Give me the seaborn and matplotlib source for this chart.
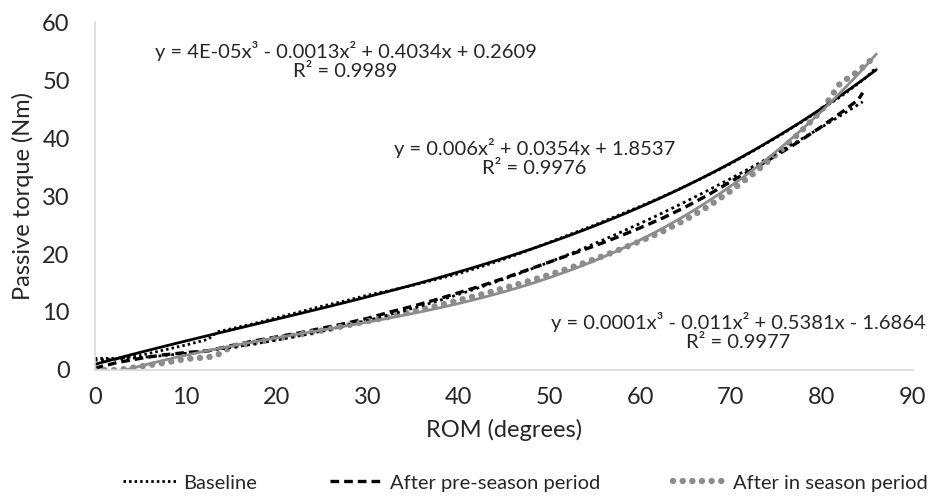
import numpy as np
import pandas as pd
import matplotlib
matplotlib.use("Agg")
import matplotlib.pyplot as plt
import seaborn as sns

# Values (ROM in degrees, torque in Nm)
base_x = [0, 2.5, 5, 7.5, 10, 12.5, 13.5, 15, 17.5, 20, 22.5, 25, 27.5, 30, 32.5, 35, 37.5,
          40, 42.5, 45, 47.5, 50, 52.5, 55, 57.5, 60, 62.5, 65, 67.5, 70, 72.5, 75, 77.5,
          80, 82.5, 85, 86]
base_y = [2.0, 2.0, 2.5, 3.4, 4.3, 5.3, 6.6, 7.1, 8.0, 9.0, 10.0, 11.0, 11.9, 12.9, 13.7, 14.6, 15.6,
          16.6, 17.8, 19.1, 20.5, 22.0, 23.5, 25.0, 26.6, 28.2, 29.9, 31.7, 33.6, 35.6, 37.8, 40.1, 42.5,
          45.0, 47.6, 50.6, 52.2]

pre_x = [0, 2.5, 5, 7.5, 10, 12.5, 15, 17.5, 20, 22.5, 25, 27.5, 30, 32.5, 35, 37.5,
         40, 42.5, 45, 47.5, 50, 52.5, 55, 57.5, 60, 62.5, 65, 67.5, 70, 72.5, 75, 77.5,
         80, 82.5, 84, 84.5]
pre_y = [0.3, 1.3, 2.0, 2.6, 3.0, 3.3, 4.2, 5.0, 5.7, 6.4, 7.2, 8.0, 8.9, 10.0, 11.0, 12.1,
         13.3, 14.5, 15.8, 17.2, 18.6, 20.0, 21.4, 22.9, 24.5, 26.2, 28.1, 30.2, 32.5, 34.7, 37.0, 39.4,
         42.0, 44.8, 46.6, 47.8]

ins_x = [0, 2.5, 5, 7.5, 10, 12.5, 13.5, 15, 17.5, 20, 22.5, 25, 27.5, 30, 32.5, 35, 37.5,
         40, 42.5, 45, 47.5, 50, 52.5, 55, 57.5, 60, 62.5, 65, 67.5, 70, 72.5, 75, 77.5,
         80, 82, 84, 86]
ins_y = [0.0, 0.0, 0.6, 1.2, 1.9, 2.2, 2.6, 4.0, 4.7, 5.4, 6.1, 6.8, 7.6, 8.4, 9.2, 10.1, 11.0,
         12.0, 13.0, 14.1, 15.2, 16.4, 17.7, 19.1, 20.6, 22.2, 23.9, 25.9, 28.2, 30.9, 33.9, 37.2, 40.8,
         44.8, 49.4, 51.5, 54.3]

# Trendline labels as printed on the chart
eq_base = "y = 4E-05x³ - 0.0013x² + 0.4034x + 0.2609\nR² = 0.9989"
eq_pre = "y = 0.006x² + 0.0354x + 1.8537\nR² = 0.9976"
eq_ins = "y = 0.0001x³ - 0.011x² + 0.5381x - 1.6864\nR² = 0.9977"

sns.set_theme(style="white")
plt.rcParams['font.family'] = ['Lato', 'DejaVu Sans']

black = "#000000"
grey = "#8c8c8c"

fig = plt.figure(figsize=(9.38, 5.01), dpi=100)
ax = fig.add_axes([0.101, 0.2615, 0.872, 0.6945])

# data series
sns.lineplot(x=base_x, y=base_y, ax=ax, color=black, linewidth=2.0,
             linestyle=(0, (0.9, 1.1)), label="Baseline")
sns.lineplot(x=pre_x, y=pre_y, ax=ax, color=black, linewidth=2.4,
             linestyle=(0, (2.6, 1.5)), label="After pre-season period")
sns.lineplot(x=ins_x, y=ins_y, ax=ax, color=grey, linewidth=4.6,
             linestyle=(0, (0.01, 1.5)), dash_capstyle="round",
             label="After in season period")

# polynomial trendlines
sns.regplot(x=np.array(base_x), y=np.array(base_y), order=3, ci=None, scatter=False, ax=ax,
            line_kws=dict(color=black, linewidth=2.0))
sns.regplot(x=np.array(pre_x), y=np.array(pre_y), order=2, ci=None, scatter=False, ax=ax,
            line_kws=dict(color=black, linewidth=2.0, linestyle=(0, (1, 1.3))))
sns.regplot(x=np.array(ins_x), y=np.array(ins_y), order=3, ci=None, scatter=False, ax=ax,
            line_kws=dict(color=grey, linewidth=2.0))

# equation labels
ax.text(27.6, 53.4, eq_base, ha="center", va="center", fontsize=14.5, color="#262626",
        multialignment="center", linespacing=1.15)
ax.text(48.4, 36.6, eq_pre, ha="center", va="center", fontsize=14.5, color="#262626",
        multialignment="center", linespacing=1.15)
ax.text(70.8, 6.7, eq_ins, ha="center", va="center", fontsize=14.5, color="#262626",
        multialignment="center", linespacing=1.15)

ax.set_xlim(0, 90)
ax.set_ylim(0, 60)
ax.set_xticks(range(0, 91, 10))
ax.set_yticks(range(0, 61, 10))
ax.tick_params(axis="both", length=0, labelsize=17, colors="#262626")
ax.tick_params(axis="x", pad=12)
ax.tick_params(axis="y", pad=18)
ax.set_xlabel("ROM (degrees)", fontsize=17, color="#262626", labelpad=8)
ax.set_ylabel("Passive torque (Nm)", fontsize=17, color="#262626", labelpad=6)

for side in ["top", "right"]:
    ax.spines[side].set_visible(False)
for side in ["left", "bottom"]:
    ax.spines[side].set_color("#d9d9d9")
    ax.spines[side].set_linewidth(1.2)

ax.get_legend().remove()
handles, labels = ax.get_legend_handles_labels()
fig.legend(handles, labels, loc="center", bbox_to_anchor=(0.56, 0.036), ncol=3,
           frameon=False, fontsize=14.5, handlelength=2.7, columnspacing=3.6,
           handletextpad=0.3, labelcolor="#262626")

fig.savefig("out.png", dpi=100)
